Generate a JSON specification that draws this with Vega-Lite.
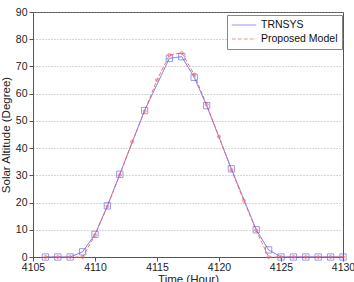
{
  "$schema": "https://vega.github.io/schema/vega-lite/v6.json",
  "width": 310,
  "height": 245,
  "autosize": {"type": "none"},
  "padding": {"left": 33, "top": 12, "right": 11, "bottom": 25},
  "background": "white",
  "config": {
    "font": "Liberation Sans",
    "view": {"stroke": "#555555", "strokeWidth": 1},
    "axis": {"domainColor": "#555555", "tickColor": "#555555", "labelColor": "#222222", "titleColor": "#222222", "labelFontSize": 10.5, "titleFontSize": 11.5, "titleFontWeight": "normal"}
  },
  "data": {"values": [
    {"t": 4106, "v": 0, "s": "TRNSYS"},
    {"t": 4107, "v": 0, "s": "TRNSYS"},
    {"t": 4108, "v": 0, "s": "TRNSYS"},
    {"t": 4109, "v": 1.9, "s": "TRNSYS"},
    {"t": 4110, "v": 8.3, "s": "TRNSYS"},
    {"t": 4111, "v": 18.8, "s": "TRNSYS"},
    {"t": 4112, "v": 30.4, "s": "TRNSYS"},
    {"t": 4114, "v": 53.8, "s": "TRNSYS"},
    {"t": 4116, "v": 73.0, "s": "TRNSYS"},
    {"t": 4117, "v": 73.6, "s": "TRNSYS"},
    {"t": 4118, "v": 66.0, "s": "TRNSYS"},
    {"t": 4119, "v": 55.6, "s": "TRNSYS"},
    {"t": 4121, "v": 32.4, "s": "TRNSYS"},
    {"t": 4123, "v": 10.0, "s": "TRNSYS"},
    {"t": 4124, "v": 2.6, "s": "TRNSYS"},
    {"t": 4125, "v": 0, "s": "TRNSYS"},
    {"t": 4126, "v": 0, "s": "TRNSYS"},
    {"t": 4127, "v": 0, "s": "TRNSYS"},
    {"t": 4128, "v": 0, "s": "TRNSYS"},
    {"t": 4129, "v": 0, "s": "TRNSYS"},
    {"t": 4130, "v": 0, "s": "TRNSYS"},
    {"t": 4106, "v": 0, "s": "Proposed Model"},
    {"t": 4107, "v": 0, "s": "Proposed Model"},
    {"t": 4108, "v": 0, "s": "Proposed Model"},
    {"t": 4109, "v": 0, "s": "Proposed Model"},
    {"t": 4110, "v": 8.0, "s": "Proposed Model"},
    {"t": 4111, "v": 18.6, "s": "Proposed Model"},
    {"t": 4112, "v": 30.2, "s": "Proposed Model"},
    {"t": 4113, "v": 42.3, "s": "Proposed Model"},
    {"t": 4114, "v": 53.6, "s": "Proposed Model"},
    {"t": 4115, "v": 65.0, "s": "Proposed Model"},
    {"t": 4116, "v": 74.2, "s": "Proposed Model"},
    {"t": 4117, "v": 75.0, "s": "Proposed Model"},
    {"t": 4118, "v": 67.0, "s": "Proposed Model"},
    {"t": 4119, "v": 56.0, "s": "Proposed Model"},
    {"t": 4120, "v": 44.2, "s": "Proposed Model"},
    {"t": 4121, "v": 32.0, "s": "Proposed Model"},
    {"t": 4122, "v": 20.7, "s": "Proposed Model"},
    {"t": 4123, "v": 9.8, "s": "Proposed Model"},
    {"t": 4124, "v": 0, "s": "Proposed Model"},
    {"t": 4125, "v": 0, "s": "Proposed Model"},
    {"t": 4126, "v": 0, "s": "Proposed Model"},
    {"t": 4127, "v": 0, "s": "Proposed Model"},
    {"t": 4128, "v": 0, "s": "Proposed Model"},
    {"t": 4129, "v": 0, "s": "Proposed Model"},
    {"t": 4130, "v": 0, "s": "Proposed Model"}
  ]},
  "encoding": {
    "x": {"field": "t", "type": "quantitative", "scale": {"domain": [4105, 4130], "nice": false, "zero": false},
      "axis": {"title": "Time (Hour)", "values": [4105, 4110, 4115, 4120, 4125, 4130], "format": "d", "grid": false, "tickSize": 4, "labelPadding": 1, "titlePadding": 1, "labelFlush": false}},
    "y": {"field": "v", "type": "quantitative", "scale": {"domain": [0, 90], "nice": false},
      "axis": {"title": "Solar Altitude (Degree)", "values": [0, 10, 20, 30, 40, 50, 60, 70, 80, 90], "grid": true, "gridColor": "#999999", "gridDash": [1, 2], "gridWidth": 0.8, "tickSize": 4, "labelPadding": 2, "titlePadding": 4}},
    "color": {"field": "s", "type": "nominal", "scale": {"domain": ["TRNSYS", "Proposed Model"], "range": ["#5f5ff2", "#f26464"]},
      "legend": {"title": null, "orient": "none", "legendX": 194, "legendY": 3, "fillColor": "white", "strokeColor": "#888888", "padding": 4, "labelFontSize": 10.5, "labelColor": "#111111", "symbolType": "stroke", "symbolSize": 600, "symbolStrokeWidth": 1, "clipHeight": 12, "rowPadding": 2, "labelOffset": 4}}
  },
  "layer": [
    {"mark": {"type": "line", "strokeWidth": 0.9},
     "encoding": {"strokeDash": {"field": "s", "type": "nominal", "scale": {"domain": ["TRNSYS", "Proposed Model"], "range": [[1, 0], [4, 2]]}}}},
    {"transform": [{"filter": "datum.s === 'TRNSYS'"}],
     "mark": {"type": "point", "shape": "square", "filled": false, "strokeWidth": 0.9, "size": 40}},
    {"transform": [{"filter": "datum.s === 'Proposed Model'"}],
     "mark": {"type": "point", "shape": "cross", "filled": false, "strokeWidth": 0.9, "size": 10}}
  ]
}
